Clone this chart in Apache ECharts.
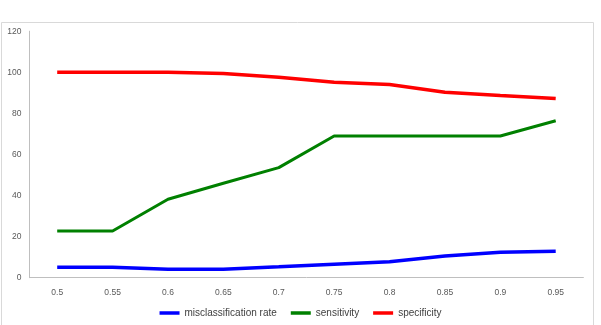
<!DOCTYPE html>
<html><head><meta charset="utf-8">
<script src="https://cdn.jsdelivr.net/npm/echarts@6/dist/echarts.min.js"></script>
<style>html,body{margin:0;padding:0;background:#fff}#c{width:601px;height:325px}</style>
</head><body><div id="c"></div>
<script>
var categories = ["0.5","0.55","0.6","0.65","0.7","0.75","0.8","0.85","0.9","0.95"];
var misclassification = [5.1, 5.1, 4.1, 4.1, 5.3, 6.6, 7.8, 10.6, 12.4, 12.9];
var sensitivity = [22.7, 22.7, 38.2, 46, 53.6, 69, 69, 69, 69, 76.4];
var specificity = [100, 100, 100, 99.4, 97.6, 95.1, 94.0, 90.3, 88.7, 87.2];
var yTicks = {min: 0, max: 120, interval: 20};

var chart = echarts.init(document.getElementById('c'), null, {renderer: 'canvas'});
var font = 'Liberation Sans';
chart.setOption({
  animation: false,
  backgroundColor: '#fff',
  graphic: [{type: 'rect', shape: {x: 1.5, y: 22.5, width: 592, height: 330},
    style: {fill: 'none', stroke: '#d9d9d9', lineWidth: 1}, silent: true}],
  grid: {left: 29.5, right: 17.6, top: 31.2, bottom: 47.3},
  legend: {bottom: 2, left: 'center', itemWidth: 20, itemHeight: 3.5, itemGap: 14,
    icon: 'rect',
    textStyle: {fontFamily: font, fontSize: 10, color: '#404040'},
    data: ['misclassification rate', 'sensitivity', 'specificity']},
  xAxis: {type: 'category', data: categories, boundaryGap: true,
    axisLine: {lineStyle: {color: '#bfbfbf', width: 1}}, axisTick: {show: false},
    axisLabel: {fontFamily: font, fontSize: 8.5, color: '#595959', margin: 10}},
  yAxis: {type: 'value', min: yTicks.min, max: yTicks.max, interval: yTicks.interval,
    axisLine: {show: true, lineStyle: {color: '#bfbfbf', width: 1}}, axisTick: {show: false},
    splitLine: {show: false},
    axisLabel: {fontFamily: font, fontSize: 8.5, color: '#595959', margin: 8}},
  series: [
    {name: 'misclassification rate', type: 'line', data: misclassification, symbol: 'none',
      itemStyle: {color: '#0000ff'}, lineStyle: {color: '#0000ff', width: 3.5}},
    {name: 'sensitivity', type: 'line', data: sensitivity, symbol: 'none',
      itemStyle: {color: '#008000'}, lineStyle: {color: '#008000', width: 3}},
    {name: 'specificity', type: 'line', data: specificity, symbol: 'none',
      itemStyle: {color: '#ff0000'}, lineStyle: {color: '#ff0000', width: 3.5}}
  ]
});
</script></body></html>
